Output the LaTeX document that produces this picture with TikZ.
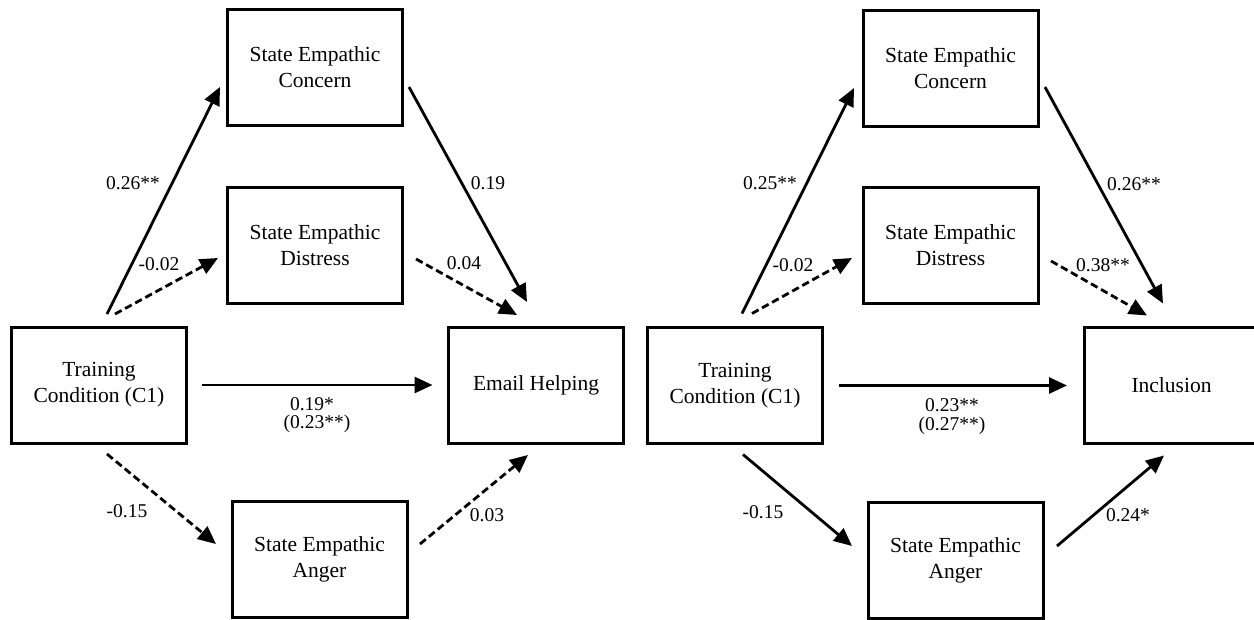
\documentclass[tikz,border=0pt]{standalone}
\usepackage{fontspec}
\setmainfont{Liberation Serif}
\usetikzlibrary{arrows.meta}
\begin{document}
\begin{tikzpicture}[x=1pt,y=-1pt,
  box/.style={draw, line width=3pt, minimum width=175pt, minimum height=116pt,
    align=center, font=\fontsize{21.5}{26}\selectfont, inner sep=0pt, outer sep=0pt},
  lab/.style={font=\fontsize{19.5}{22}\selectfont, inner sep=0pt},
  arr/.style={line width=2.8pt, -{Triangle[length=18pt,width=16pt]}},
  darr/.style={arr, dash pattern=on 7.5pt off 4pt},
]
\useasboundingbox (0,0) rectangle (1254,619);

% ---------------- left panel ----------------
\node[box] (tcL)  at (99,385)    {Training\\Condition (C1)};
\node[box] (secL) at (315,67)    {State Empathic\\Concern};
\node[box] (sedL) at (315,245)   {State Empathic\\Distress};
\node[box] (emL)  at (536,385)   {Email Helping};
\node[box] (angL) at (319.5,559) {State Empathic\\Anger};

\draw[arr]  ([xshift=8pt,yshift=13pt]tcL.north) -- ([xshift=-7.5pt,yshift=-20pt]secL.west);
\draw[darr] ([xshift=16pt,yshift=13pt]tcL.north) -- ([xshift=-9.5pt,yshift=-13pt]sedL.west);
\draw[arr]  ([xshift=6.5pt,yshift=-20pt]secL.east) -- ([xshift=-9pt,yshift=25pt]emL.north);
\draw[darr] ([xshift=13.5pt,yshift=-14pt]sedL.east) -- ([xshift=-19pt,yshift=12pt]emL.north);
\draw[arr]  ([xshift=15pt]tcL.east) -- ([xshift=-16pt]emL.west);
\draw[darr] ([xshift=8pt,yshift=-11pt]tcL.south) -- ([xshift=-16pt,yshift=15pt]angL.west);
\draw[darr] ([xshift=13pt,yshift=15pt]angL.east) -- ([xshift=-8pt,yshift=-12pt]emL.south);

\node[lab] (l1) at (133,183) {0.26**};
\node[lab] (l2) at (159,264) {-0.02};
\node[lab] (l3) at (488,183) {0.19};
\node[lab] (l4) at (464,263) {0.04};
\node[lab] (l5) at (312,404) {0.19*};
\node[lab] (l6) at (317,424) {(0.23**)};
\node[lab] (l7) at (127,511) {-0.15};
\node[lab] (l8) at (487,515) {0.03};

% ---------------- right panel ----------------
\node[box] (tcR)  at (735,385.5)    {Training\\Condition (C1)};
\node[box] (secR) at (950.5,68)     {State Empathic\\Concern};
\node[box] (sedR) at (950.5,245.5)  {State Empathic\\Distress};
\node[box] (inR)  at (1171.5,385.5) {Inclusion};
\node[box] (angR) at (955.5,560)    {State Empathic\\Anger};

\draw[arr]  ([xshift=7pt,yshift=14pt]tcR.north) -- ([xshift=-9pt,yshift=-20pt]secR.west);
\draw[darr] ([xshift=17pt,yshift=14pt]tcR.north) -- ([xshift=-11pt,yshift=-12.5pt]sedR.west);
\draw[arr]  ([xshift=7pt,yshift=-19pt]secR.east) -- ([xshift=-8.5pt,yshift=24pt]inR.north);
\draw[darr] ([xshift=13pt,yshift=-15.5pt]sedR.east) -- ([xshift=-24.5pt,yshift=12pt]inR.north);
\draw[arr]  ([xshift=16pt]tcR.east) -- ([xshift=-17pt]inR.west);
\draw[arr]  ([xshift=8pt,yshift=-11pt]tcR.south) -- ([xshift=-16pt,yshift=14pt]angR.west);
\draw[arr]  ([xshift=14pt,yshift=14pt]angR.east) -- ([xshift=-7.5pt,yshift=-12pt]inR.south);

\node[lab] (r1) at (770,183)  {0.25**};
\node[lab] (r2) at (793,265)  {-0.02};
\node[lab] (r3) at (1134,184) {0.26**};
\node[lab] (r4) at (1103,265) {0.38**};
\node[lab] (r5) at (952,405)  {0.23**};
\node[lab] (r6) at (952,426)  {(0.27**)};
\node[lab] (r7) at (763,512)  {-0.15};
\node[lab] (r8) at (1128,515) {0.24*};
\end{tikzpicture}
\end{document}
